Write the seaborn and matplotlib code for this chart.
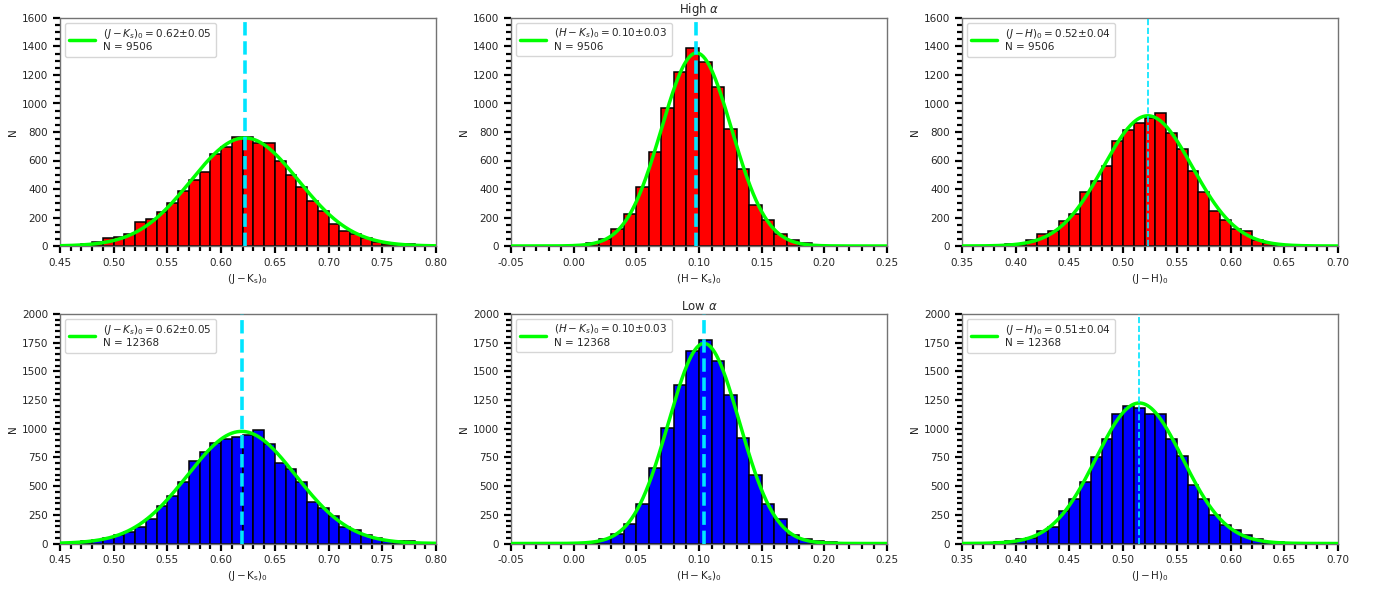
import numpy as np
import pandas as pd
import matplotlib
matplotlib.use("Agg")
import matplotlib.pyplot as plt
import seaborn as sns
from matplotlib.ticker import MultipleLocator

# ---------------- data (bin width 0.01) ----------------
bin_width = 0.01

# High alpha
hi_jk_start = 0.45
hi_jk_counts = [5, 10, 16, 28, 56, 63, 86, 168, 189, 242, 303, 385, 464, 522, 643, 697, 765, 765,
                725, 725, 597, 501, 413, 317, 247, 156, 107, 82, 54, 30, 16, 14, 12, 0, 0]
hi_hk_start = -0.05
hi_hk_counts = [0, 0, 0, 0, 0, 2, 21, 51, 121, 224, 417, 660, 967, 1224, 1389, 1294, 1114, 823,
                538, 289, 179, 82, 44, 21, 5, 0, 0, 0, 0, 0]
hi_jh_start = 0.35
hi_jh_counts = [0, 0, 0, 7, 14, 12, 44, 84, 105, 177, 224, 378, 455, 564, 739, 816, 862, 895,
                932, 795, 681, 527, 378, 249, 184, 119, 107, 42, 21, 9, 5, 2, 0, 0, 0]

# Low alpha
lo_jk_start = 0.45
lo_jk_counts = [2, 6, 26, 29, 47, 70, 99, 140, 215, 328, 413, 532, 718, 794, 872, 910, 930, 945,
                988, 863, 698, 648, 538, 366, 308, 244, 148, 116, 78, 49, 26, 23, 23, 0, 0]
lo_hk_start = -0.05
lo_hk_counts = [0, 0, 0, 0, 0, 1, 3, 41, 84, 172, 340, 657, 1006, 1378, 1680, 1776, 1587, 1291,
                916, 599, 343, 215, 76, 38, 23, 9, 0, 0, 0, 0]
lo_jh_start = 0.35
lo_jh_counts = [0, 0, 0, 15, 26, 35, 52, 113, 145, 279, 384, 538, 753, 913, 1125, 1198, 1177, 1128,
                1128, 910, 765, 512, 392, 247, 160, 116, 78, 35, 17, 15, 3, 0, 0, 0, 0]

# Gaussian fit parameters (mean, sigma) and sample sizes
hi_N = 9506
lo_N = 12368
hi_fit = {"jk": (0.622, 0.050), "hk": (0.098, 0.028), "jh": (0.523, 0.0415)}
lo_fit = {"jk": (0.619, 0.0505), "hk": (0.104, 0.0283), "jh": (0.515, 0.0403)}

legend_texts_hi = [r"$(J-K_s)_0 = 0.62{\pm}0.05$", r"$(H-K_s)_0 = 0.10{\pm}0.03$", r"$(J-H)_0 = 0.52{\pm}0.04$"]
legend_texts_lo = [r"$(J-K_s)_0 = 0.62{\pm}0.05$", r"$(H-K_s)_0 = 0.10{\pm}0.03$", r"$(J-H)_0 = 0.51{\pm}0.04$"]
xlabels = [r"$\mathrm{(J-K_s)_0}$", r"$\mathrm{(H-K_s)_0}$", r"$\mathrm{(J-H)_0}$"]
xlims = [(0.45, 0.80), (-0.05, 0.25), (0.35, 0.70)]
row_titles = [r"High $\alpha$", r"Low $\alpha$"]

# ---------------- style ----------------
sns.set_style("ticks")
plt.rcParams["font.family"] = ["DejaVu Sans"]
plt.rcParams["font.size"] = 7.5
plt.rcParams["mathtext.fontset"] = "dejavusans"

fig = plt.figure(figsize=(13.78, 5.90), dpi=100)
lefts = [60 / 1378, 511 / 1378, 962 / 1378]
width = 376 / 1378
row_bottoms = [1 - 246 / 590, 1 - 543.5 / 590]
row_heights = [228 / 590, 229.5 / 590]

rows = [
    ("red", hi_N, [hi_jk_start, hi_hk_start, hi_jh_start], [hi_jk_counts, hi_hk_counts, hi_jh_counts],
     [hi_fit["jk"], hi_fit["hk"], hi_fit["jh"]], legend_texts_hi, (0, 1600), 200),
    ("blue", lo_N, [lo_jk_start, lo_hk_start, lo_jh_start], [lo_jk_counts, lo_hk_counts, lo_jh_counts],
     [lo_fit["jk"], lo_fit["hk"], lo_fit["jh"]], legend_texts_lo, (0, 2000), 250),
]

cyan = "#00e5ff"
for r, (color, N, starts, counts_list, fits, leg_texts, ylim, ymaj) in enumerate(rows):
    for c in range(3):
        ax = fig.add_axes([lefts[c], row_bottoms[r], width, row_heights[r]])
        counts = np.array(counts_list[c], dtype=float)
        edges = starts[c] + bin_width * np.arange(len(counts) + 1)
        centers = 0.5 * (edges[:-1] + edges[1:])
        df = pd.DataFrame({"x": centers, "w": counts})
        sns.histplot(data=df, x="x", weights="w", bins=[float(e) for e in edges], color=color, alpha=1.0,
                     edgecolor="black", linewidth=1.1, ax=ax)
        mu, sig = fits[c]
        amp = N * bin_width / (np.sqrt(2 * np.pi) * sig)
        xx = np.linspace(xlims[c][0], xlims[c][1], 400)
        fit_df = pd.DataFrame({"x": xx, "y": amp * np.exp(-0.5 * ((xx - mu) / sig) ** 2)})
        sns.lineplot(data=fit_df, x="x", y="y", color="#00ff00", lw=2.5, ax=ax,
                     label=leg_texts[c] + "\n" + f"N = {N}", zorder=4)
        if c == 2:
            ax.axvline(mu, color=cyan, ls="--", lw=1.2, zorder=5)
        else:
            ax.axvline(mu, color=cyan, ls="--", lw=2.6, zorder=5)
        ax.set_xlim(*xlims[c])
        ax.set_ylim(*ylim)
        ax.xaxis.set_major_locator(MultipleLocator(0.05))
        ax.xaxis.set_minor_locator(MultipleLocator(0.01))
        ax.yaxis.set_major_locator(MultipleLocator(ymaj))
        ax.yaxis.set_minor_locator(MultipleLocator(50))
        ax.xaxis.set_major_formatter(matplotlib.ticker.FormatStrFormatter("%.2f"))
        ax.tick_params(which="major", length=5, width=1.6, direction="out", labelsize=7.5, color="black")
        ax.tick_params(which="minor", length=3.5, width=1.6, direction="out", color="black")
        for s in ax.spines.values():
            s.set_color("0.45")
            s.set_linewidth(1.0)
        ax.set_xlabel(xlabels[c], fontsize=7.5, labelpad=3)
        ax.set_ylabel("N", fontsize=7.5, labelpad=3)
        leg = ax.legend(loc="upper left", fontsize=7.5, handlelength=2.5, borderaxespad=0.45)
        if c == 1:
            ax.set_title(row_titles[r], fontsize=8.5, pad=3)

fig.savefig("out.png", dpi=100)
